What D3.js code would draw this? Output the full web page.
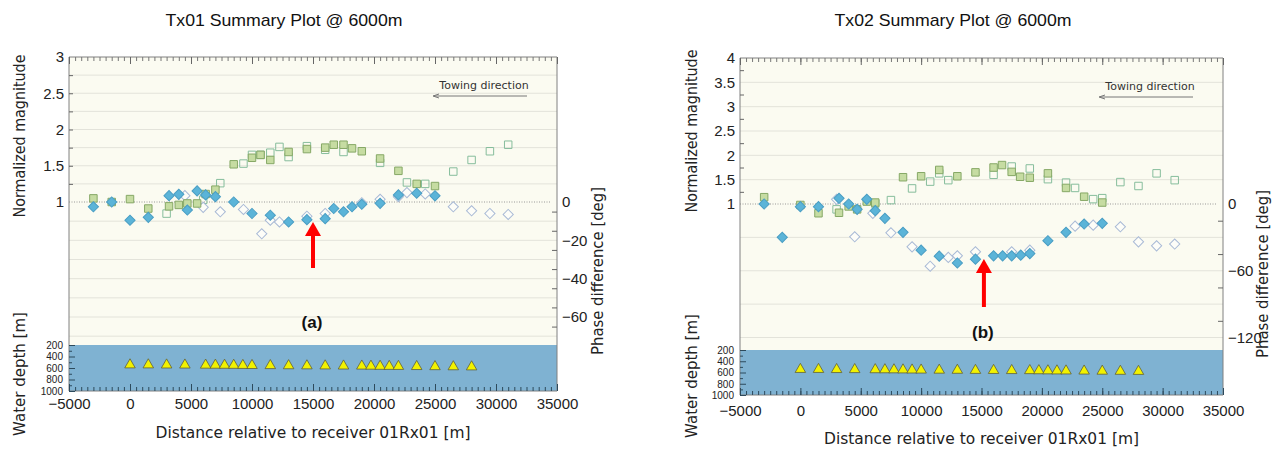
<!DOCTYPE html>
<html>
<head>
<meta charset="utf-8">
<script src="https://cdn.jsdelivr.net/npm/d3@7"></script>
<style>
body { margin: 0; background: #fff; }
.tick text { fill: #222; }
</style>
</head>
<body>
<script>

// receiver line (same for both tows)
var receiverX = [0, 1500, 3000, 4500, 6200, 7000, 7750, 8500, 9250, 10000, 11500, 13000,
    14500, 16000, 17500, 19000, 19750, 20500, 21250, 22000, 23500, 25000, 26500, 28000];
var receiverDepth = [545, 545, 547, 548, 550, 551, 552, 553, 555, 556, 558, 560,
    562, 563, 565, 566, 568, 570, 571, 572, 574, 576, 578, 580];

var xTicks = [-5000, 0, 5000, 10000, 15000, 20000, 25000, 30000, 35000];
var depthTicks = [200, 400, 600, 800, 1000];

// Tx01 : [distance, value]
var tx01MagFilled = [[-3000, 1.05], [-1500, 1.0], [0, 1.04], [1500, 0.91], [3200, 0.94], [4000, 0.96],
    [4700, 0.98], [5500, 0.98], [6200, 1.11], [7000, 1.17], [8500, 1.52], [10000, 1.61], [10700, 1.65],
    [11500, 1.58], [13000, 1.69], [14500, 1.73], [16000, 1.75], [16700, 1.79], [17500, 1.79],
    [18200, 1.74], [19000, 1.70], [20500, 1.60], [22000, 1.43], [23500, 1.25], [25000, 1.22]];
var tx01MagOpen = [[3000, 0.84], [6000, 1.03], [7400, 1.26], [9300, 1.53], [10000, 1.65], [10700, 1.65],
    [11500, 1.68], [12250, 1.76], [13000, 1.62], [14500, 1.77], [16000, 1.72], [17500, 1.69],
    [20500, 1.54], [22700, 1.27], [24200, 1.25], [26500, 1.42], [28000, 1.58], [29500, 1.70], [31000, 1.79]];
var tx01PhaseFilled = [[-3000, -2.5], [-1500, 0], [0, -9.5], [1500, -8], [3200, 3.3], [4000, 4],
    [4700, -4.2], [5500, 5.8], [6200, 3.7], [7000, 2.8], [8500, 0], [10000, -6], [11500, -6.9],
    [13000, -10.4], [14500, -9.2], [16000, -8.7], [16700, -3.4], [17500, -5.1], [18200, -2.5],
    [19000, -1.2], [20500, -0.7], [22000, 3.7], [23500, 4.6], [25000, 3.2]];
var tx01PhaseOpen = [[4500, 3.3], [6000, -2.8], [7400, -5.1], [9300, -3.9], [10800, -16.6], [11500, -9.5],
    [12250, -10.4], [14500, -7.4], [16000, -6], [19000, -0.4], [20500, 1.4], [22000, 2.8], [22700, 4.9],
    [24200, 4.2], [26500, -2.5], [28000, -4.6], [29500, -6], [31000, -6.5]];

// Tx02
var tx02MagFilled = [[-3000, 1.14], [0, 0.98], [1500, 0.81], [3200, 0.82], [4000, 0.95], [4700, 0.89],
    [5500, 1.05], [6200, 1.03], [8500, 1.55], [10000, 1.57], [11500, 1.70], [13000, 1.57], [14500, 1.65],
    [16000, 1.75], [16700, 1.80], [17500, 1.66], [18200, 1.56], [19000, 1.54], [20500, 1.63],
    [22000, 1.33], [23500, 1.15], [25000, 1.03]];
var tx02MagOpen = [[3000, 0.89], [6200, 1.01], [7500, 1.08], [9250, 1.32], [10750, 1.46], [11500, 1.63],
    [12250, 1.49], [16000, 1.60], [17500, 1.77], [19000, 1.73], [20500, 1.51], [22000, 1.44],
    [22750, 1.33], [24250, 1.10], [25000, 1.12], [26500, 1.45], [28000, 1.37], [29500, 1.63], [31000, 1.49]];
var tx02PhaseFilled = [[-3000, 0], [-1500, -30], [0, -2.4], [1500, -2.4], [3200, 5.1], [4000, 0],
    [4700, -4.8], [5500, 4.2], [6200, -6], [7000, -12.9], [8500, -25.5], [10000, -41.5], [11500, -46.9],
    [13000, -53], [14500, -49.6], [16000, -46.6], [16750, -46.6], [17500, -46.6], [18250, -46],
    [19000, -44.6], [20500, -33], [22000, -25.5], [23500, -18], [25000, -17.4]];
var tx02PhaseOpen = [[3000, 4.2], [4500, -29.5], [6000, -8.4], [7500, -25.9], [9250, -38.5], [10750, -55.9],
    [12250, -48], [13000, -46.6], [14500, -43], [17500, -43], [19000, -41.5], [22750, -19.9],
    [24250, -19], [26500, -20.5], [28000, -34], [29500, -37.6], [31000, -36]];

var tx01MagTicks = [1, 1.5, 2, 2.5, 3];
var tx01PhaseTicks = [0, -20, -40, -60];
var tx02MagTicks = [1, 1.5, 2, 2.5, 3, 3.5, 4];
var tx02PhaseTicks = [0, -60, -120];


var svg = d3.select("body").append("svg")
    .attr("width", 1278)
    .attr("height", 451);

var panels = [
    {title: "Tx01 Summary Plot @ 6000m", label: "(a)", left: 69, right: 557, top: 57, zeroY: 202,
        seaTop: 345, seaBottom: 391, magMax: 3, phaseEnd: -60, phaseEndY: 317,
        magTicks: tx01MagTicks, magMinor: d3.range(1.25, 3, 0.25),
        magGrid: [1.25, 1.5, 1.75, 2, 2.25, 2.5, 2.75],
        phaseTicks: tx01PhaseTicks, phaseMinor: [-5, -15, -25, -35, -45, -55, -65],
        phaseGrid: [-10, -20, -30, -40, -50, -60, -70],
        magFilled: tx01MagFilled, magOpen: tx01MagOpen, phFilled: tx01PhaseFilled, phOpen: tx01PhaseOpen,
        arrowX: 15000, arrowTip: 222, arrowTail: 268, labelY: 322, xTitleY: 433, labelPad: 7,
        titleX: 284, magTitleY: 136, depthTitleY: 374, phaseTitleY: 271, leftTitleX: 25, rightTitleX: 603},
    {title: "Tx02 Summary Plot @ 6000m", label: "(b)", left: 740, right: 1223, top: 58, zeroY: 204,
        seaTop: 350, seaBottom: 395, magMax: 4, phaseEnd: -120, phaseEndY: 337.5,
        magTicks: tx02MagTicks, magMinor: d3.range(1.25, 4, 0.5),
        magGrid: [1.5, 2, 2.5, 3, 3.5],
        phaseTicks: tx02PhaseTicks, phaseMinor: [-15, -45, -75, -105],
        phaseGrid: [-30, -60, -90, -120],
        magFilled: tx02MagFilled, magOpen: tx02MagOpen, phFilled: tx02PhaseFilled, phOpen: tx02PhaseOpen,
        arrowX: 15200, arrowTip: 259, arrowTail: 307, labelY: 332, xTitleY: 439, labelPad: 10,
        titleX: 953, magTitleY: 131, depthTitleY: 376, phaseTitleY: 274, leftTitleX: 697, rightTitleX: 1268}
];

var tickFont = "Liberation Sans, Arial, sans-serif";
var labelFont = "DejaVu Sans, sans-serif";

panels.forEach(drawPanel);

function axisTitle(g, x, y, len, txt, rotate) {
    var t = g.append("text")
        .attr("transform", "translate(" + x + "," + y + ")" + (rotate ? " rotate(-90)" : ""))
        .attr("text-anchor", "middle")
        .style("font-family", labelFont).style("font-size", "15px").attr("fill", "#222")
        .text(txt);
    if (len) t.attr("textLength", len).attr("lengthAdjust", "spacingAndGlyphs");
    return t;
}

function drawPanel(p) {

    var g = svg.append("g");

    var x = d3.scaleLinear().domain([-5000, 35000]).range([p.left, p.right]);
    var mag = d3.scaleLinear().domain([1, p.magMax]).range([p.zeroY, p.top]);
    var ph = d3.scaleLinear().domain([0, p.phaseEnd]).range([p.zeroY, p.phaseEndY]);
    var dep = d3.scaleLinear().domain([200, 1000]).range([p.seaTop, p.seaBottom]);
    var midX = (p.left + p.right) / 2;

    // title
    svg.append("text")
        .attr("x", p.titleX).attr("y", 26)
        .attr("text-anchor", "middle")
        .attr("textLength", 237).attr("lengthAdjust", "spacingAndGlyphs")
        .style("font-family", tickFont).style("font-size", "17px")
        .attr("fill", "#111")
        .text(p.title);

    // plot background
    g.append("rect")
        .attr("x", p.left).attr("y", p.top)
        .attr("width", p.right - p.left).attr("height", p.seaTop - p.top)
        .attr("fill", "#fbfbf1");

    // grid
    g.selectAll(".gridMag")
        .data(p.magGrid)
        .enter().append("line")
        .attr("class", "gridMag")
        .attr("x1", p.left).attr("x2", p.right)
        .attr("y1", function (d) { return mag(d) })
        .attr("y2", function (d) { return mag(d) })
        .style("stroke", "#e3e3da").style("stroke-width", 1);

    g.selectAll(".gridPh")
        .data(p.phaseGrid)
        .enter().append("line")
        .attr("class", "gridPh")
        .attr("x1", p.left).attr("x2", p.right)
        .attr("y1", function (d) { return ph(d) })
        .attr("y2", function (d) { return ph(d) })
        .style("stroke", "#e3e3da").style("stroke-width", 1);

    g.append("line")
        .attr("x1", p.left).attr("x2", p.right - 6)
        .attr("y1", mag(1)).attr("y2", mag(1))
        .style("stroke", "#999").style("stroke-dasharray", "1,1.5");

    // sea floor panel
    g.append("rect")
        .attr("x", p.left).attr("y", p.seaTop)
        .attr("width", p.right - p.left).attr("height", p.seaBottom - p.seaTop)
        .attr("fill", "#7fb2d2");

    // frame
    g.append("path")
        .attr("d", "M" + p.left + "," + p.seaBottom + "V" + p.top + "H" + p.right + "V" + p.seaBottom + "H" + p.left)
        .style("fill", "none").style("stroke", "#808080").style("stroke-width", 1);

    // top ticks
    var minorX = d3.range(-5000, 35001, 500);
    var topAxis = g.append("g")
        .attr("transform", "translate(0," + p.top + ")")
        .call(d3.axisTop(x).tickValues(minorX).tickSize(-4).tickFormat(""));
    topAxis.select(".domain").remove();
    topAxis.selectAll("line").style("stroke", "#777");
    var topMajor = g.append("g")
        .attr("transform", "translate(0," + p.top + ")")
        .call(d3.axisTop(x).tickValues(xTicks).tickSize(-7).tickFormat(""));
    topMajor.select(".domain").remove();
    topMajor.selectAll("line").style("stroke", "#666");

    // bottom axis of the sea panel
    var botMinor = g.append("g")
        .attr("transform", "translate(0," + p.seaBottom + ")")
        .call(d3.axisBottom(x).tickValues(minorX).tickSize(-4).tickFormat(""));
    botMinor.select(".domain").remove();
    botMinor.selectAll("line").style("stroke", "#2d4a5c");

    var botAxis = g.append("g")
        .attr("transform", "translate(0," + p.seaBottom + ")")
        .call(d3.axisBottom(x).tickValues(xTicks).tickSize(-7).tickPadding(p.labelPad).tickFormat(d3.format("d")));
    botAxis.select(".domain").remove();
    botAxis.selectAll("line").style("stroke", "#2d4a5c");
    botAxis.selectAll("text").style("font-family", tickFont).style("font-size", "15px");

    // depth axis
    var depMinor = g.append("g")
        .attr("transform", "translate(" + p.left + ",0)")
        .call(d3.axisLeft(dep).tickValues([300, 500, 700, 900]).tickSize(-3).tickFormat(""));
    depMinor.select(".domain").remove();
    depMinor.selectAll("line").style("stroke", "#2d4a5c");
    var depAxis = g.append("g")
        .attr("transform", "translate(" + p.left + ",0)")
        .call(d3.axisLeft(dep).tickValues(depthTicks).tickSize(-6).tickPadding(6).tickFormat(d3.format("d")));
    depAxis.select(".domain").remove();
    depAxis.selectAll("line").style("stroke", "#2d4a5c");
    depAxis.selectAll("text").style("font-family", tickFont).style("font-size", "10px").attr("dy", "0.33em");

    // magnitude axis (left)
    var magMinor = g.append("g")
        .attr("transform", "translate(" + p.left + ",0)")
        .call(d3.axisLeft(mag).tickValues(p.magMinor).tickSize(-4).tickFormat(""));
    magMinor.select(".domain").remove();
    magMinor.selectAll("line").style("stroke", "#666");
    var magAxis = g.append("g")
        .attr("transform", "translate(" + p.left + ",0)")
        .call(d3.axisLeft(mag).tickValues(p.magTicks).tickSize(0).tickPadding(5).tickFormat(d3.format("~g")));
    magAxis.select(".domain").remove();
    magAxis.selectAll("text").style("font-family", tickFont).style("font-size", "15px");

    // phase axis (right)
    var phMinor = g.append("g")
        .attr("transform", "translate(" + p.right + ",0)")
        .call(d3.axisRight(ph).tickValues(p.phaseMinor).tickSize(-5).tickFormat(""));
    phMinor.select(".domain").remove();
    phMinor.selectAll("line").style("stroke", "#666");
    var phAxis = g.append("g")
        .attr("transform", "translate(" + p.right + ",0)")
        .call(d3.axisRight(ph).tickValues(p.phaseTicks).tickSize(0).tickPadding(5).tickFormat(d3.format("d")));
    phAxis.select(".domain").remove();
    phAxis.selectAll("text").style("font-family", tickFont).style("font-size", "15px");

    // axis titles
    axisTitle(g, p.leftTitleX, p.magTitleY, 163, "Normalized magnitude", true);
    axisTitle(g, p.leftTitleX, p.depthTitleY, 0, "Water depth [m]", true);
    axisTitle(g, p.rightTitleX, p.phaseTitleY, 168, "Phase difference [deg]", true);
    axisTitle(g, midX, p.xTitleY + 5, 315, "Distance relative to receiver 01Rx01 [m]", false);

    // towing direction
    g.append("text")
        .attr("x", p.right - 73).attr("y", p.top + 32)
        .attr("text-anchor", "middle")
        .style("font-family", labelFont).style("font-size", "11px").attr("fill", "#333")
        .text("Towing direction");
    g.append("line")
        .attr("x1", p.right - 30).attr("x2", p.right - 123)
        .attr("y1", p.top + 39).attr("y2", p.top + 39)
        .style("stroke", "#777").style("stroke-width", 1);
    g.append("path")
        .attr("d", "M" + (p.right - 118) + "," + (p.top + 37) + "L" + (p.right - 124) + "," + (p.top + 39) + "L" + (p.right - 118) + "," + (p.top + 41))
        .style("fill", "none").style("stroke", "#777");

    // markers
    var square = d3.symbol().type(d3.symbolSquare).size(56);
    var diamond = d3.symbol().type(d3.symbolSquare).size(52);

    g.selectAll(".magOpen")
        .data(p.magOpen)
        .enter().append("path")
        .attr("class", "magOpen")
        .attr("d", square)
        .attr("transform", function (d) { return "translate(" + x(d[0]) + "," + mag(d[1]) + ")" })
        .style("fill", "none").style("stroke", "#86bd9c").style("stroke-width", 1);

    g.selectAll(".phOpen")
        .data(p.phOpen)
        .enter().append("path")
        .attr("class", "phOpen")
        .attr("d", diamond)
        .attr("transform", function (d) { return "translate(" + x(d[0]) + "," + ph(d[1]) + ") rotate(45)" })
        .style("fill", "#fdfdf8").style("stroke", "#a9bad6").style("stroke-width", 1);

    g.selectAll(".magFilled")
        .data(p.magFilled)
        .enter().append("path")
        .attr("class", "magFilled")
        .attr("d", square)
        .attr("transform", function (d) { return "translate(" + x(d[0]) + "," + mag(d[1]) + ")" })
        .style("fill", "#c6dca2").style("stroke", "#86a866").style("stroke-width", 1);

    g.selectAll(".phFilled")
        .data(p.phFilled)
        .enter().append("path")
        .attr("class", "phFilled")
        .attr("d", diamond)
        .attr("transform", function (d) { return "translate(" + x(d[0]) + "," + ph(d[1]) + ") rotate(45)" })
        .style("fill", "#5bb4d8").style("stroke", "#4a9ec4").style("stroke-width", 1);

    // receivers
    var tri = d3.symbol().type(d3.symbolTriangle).size(48);
    g.selectAll(".rx")
        .data(receiverX)
        .enter().append("path")
        .attr("class", "rx")
        .attr("d", tri)
        .attr("transform", function (d, i) { return "translate(" + x(d) + "," + dep(receiverDepth[i]) + ")" })
        .style("fill", "#f2f200").style("stroke", "#5f5f3a").style("stroke-width", 0.8);

    // red arrow
    var ax = x(p.arrowX);
    g.append("line")
        .attr("x1", ax).attr("x2", ax)
        .attr("y1", p.arrowTail).attr("y2", p.arrowTip + 12)
        .style("stroke", "#ff0000").style("stroke-width", 4);
    g.append("path")
        .attr("d", "M" + ax + "," + p.arrowTip + "L" + (ax - 8) + "," + (p.arrowTip + 14) + "L" + (ax + 8) + "," + (p.arrowTip + 14) + "Z")
        .style("fill", "#ff0000");

    g.append("text")
        .attr("x", ax - 1).attr("y", p.labelY + 6)
        .attr("text-anchor", "middle")
        .style("font-family", tickFont).style("font-size", "17px").style("font-weight", "bold")
        .attr("fill", "#111")
        .text(p.label);
}

</script>
</body>
</html>
